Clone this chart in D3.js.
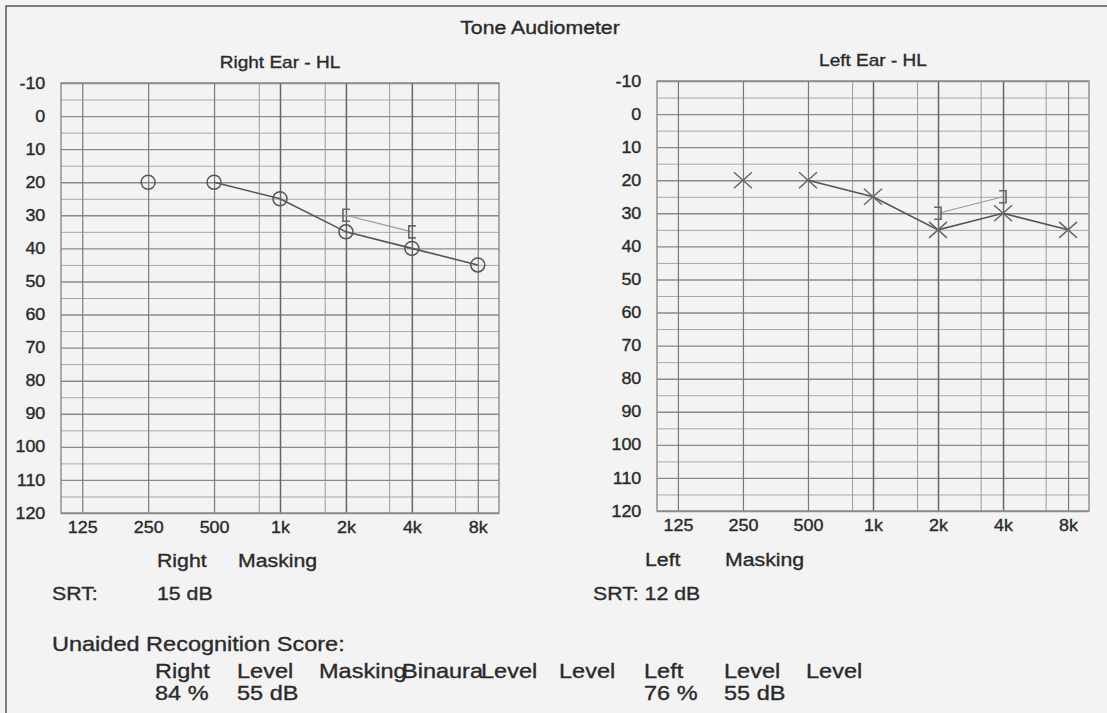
<!DOCTYPE html>
<html>
<head>
<meta charset="utf-8">
<script src="https://cdn.jsdelivr.net/npm/d3@7"></script>
<style>
  body { margin: 0; background: #f3f3f3; }
  svg { display: block; font-family: "Liberation Sans", Arial, sans-serif; }
  text { stroke: #2a2a2a; stroke-width: 0.35px; }
</style>
</head>
<body>
<div id="chart"></div>
<script>
// frequency axis
const freqs = [125, 250, 500, 1000, 2000, 4000, 8000];
const freqLabels = ["125", "250", "500", "1k", "2k", "4k", "8k"];
const midFreqs = [800, 1600, 3150, 6300];
const freqDomain = [100, 10000];

// hearing level axis
const dbTicks = [-10, 0, 10, 20, 30, 40, 50, 60, 70, 80, 90, 100, 110, 120];
const dbMinor = [-5, 5, 15, 25, 35, 45, 55, 65, 75, 85, 95, 105, 115];

// right ear
const rightFreqs = [250, 500, 1000, 2000, 4000, 8000];
const rightAir = [20, 20, 25, 35, 40, 45];
const rightMaskFreqs = [2000, 4000];
const rightMasked = [30, 35];

// left ear
const leftFreqs = [250, 500, 1000, 2000, 4000, 8000];
const leftAir = [20, 20, 25, 35, 30, 35];
const leftMaskFreqs = [2000, 4000];
const leftMasked = [30, 25];

const lineFrom = 500; // the plotted line starts at 500 Hz

const W = 1107, H = 713;
const stretch = 1.12;
const ink = "#2a2a2a";

const svg = d3.select("#chart").append("svg")
    .attr("width", W)
    .attr("height", H);

svg.append("rect").attr("width", W).attr("height", H).attr("fill", "#f3f3f3");

// page frame (top and left edge)
svg.append("path")
    .attr("d", `M6,${H} V6 H${W}`)
    .attr("fill", "none")
    .attr("stroke", "#555")
    .attr("stroke-width", 1.5);

function label(x, y, txt, size, anchor) {
    return svg.append("text")
        .attr("transform", `translate(${x},${y}) scale(${stretch},1)`)
        .attr("font-size", size)
        .attr("text-anchor", anchor || "start")
        .attr("fill", ink)
        .text(txt);
}

function panel(opt) {
    const w = opt.x1 - opt.x0, h = opt.y1 - opt.y0;
    const x = d3.scaleLog().domain(freqDomain).range([0, w]);
    const y = d3.scaleLinear().domain([-10, 120]).range([0, h]);

    const g = svg.append("g").attr("transform", `translate(${opt.x0},${opt.y0})`);

    // minor grid
    g.append("g")
        .call(d3.axisLeft(y).tickValues(dbMinor).tickSize(-w).tickFormat(""))
        .call(a => a.select(".domain").remove())
        .call(a => a.selectAll("line").attr("stroke", "#a8a8a8").attr("stroke-width", 1));
    g.append("g")
        .attr("transform", `translate(0,${h})`)
        .call(d3.axisBottom(x).tickValues(midFreqs).tickSize(-h).tickFormat(""))
        .call(a => a.select(".domain").remove())
        .call(a => a.selectAll("line").attr("stroke", "#9a9a9a").attr("stroke-width", 1));

    // major grid + labels
    g.append("g")
        .call(d3.axisLeft(y).tickValues(dbTicks).tickSize(-w).tickPadding(14).tickFormat(d => String(d)))
        .call(a => a.select(".domain").remove())
        .call(a => a.selectAll("line").attr("stroke", "#8a8a8a").attr("stroke-width", 1.4))
        .call(a => a.selectAll("text")
            .attr("font-size", 16)
            .attr("fill", ink)
            .attr("font-family", "Liberation Sans, Arial, sans-serif")
            .attr("transform", `scale(${stretch},1)`));

    g.append("g")
        .attr("transform", `translate(0,${h})`)
        .call(d3.axisBottom(x).tickValues(freqs).tickSize(-h).tickFormat((d, i) => freqLabels[i]))
        .call(a => a.select(".domain").remove())
        .call(a => a.selectAll("line")
            .attr("stroke", d => (d >= 1000 && d <= 4000) ? "#666" : "#7a7a7a")
            .attr("stroke-width", d => (d >= 1000 && d <= 4000) ? 1.5 : 1.2))
        .call(a => a.selectAll("text")
            .attr("y", 20).attr("dy", null)
            .attr("font-size", 16)
            .attr("fill", ink)
            .attr("font-family", "Liberation Sans, Arial, sans-serif")
            .attr("transform", `scale(${stretch},1)`));

    // border
    g.append("rect")
        .attr("width", w).attr("height", h)
        .attr("fill", "none")
        .attr("stroke", "#8a8a8a")
        .attr("stroke-width", 1.4);

    // masked thresholds
    const masked = opt.maskFreqs.map((f, i) => ({ f: f, v: opt.masked[i] }));
    const line = d3.line().x(d => x(d.f)).y(d => y(d.v));
    g.append("path")
        .attr("d", line(masked))
        .attr("fill", "none")
        .attr("stroke", "#999")
        .attr("stroke-width", 1.1);
    const s = opt.bracketSide;
    g.selectAll(".bracket").data(masked).enter().append("path")
        .attr("class", "bracket")
        .attr("transform", d => `translate(${x(d.f)},${y(d.v)})`)
        .attr("d", `M${4 * s},-6 H${-3 * s} V6 H${4 * s}`)
        .attr("fill", "none")
        .attr("stroke", "#666")
        .attr("stroke-width", 1.6);

    // air conduction thresholds
    const air = opt.freqs.map((f, i) => ({ f: f, v: opt.air[i] }));
    g.append("path")
        .attr("d", line(air.filter(d => d.f >= lineFrom)))
        .attr("fill", "none")
        .attr("stroke", "#555")
        .attr("stroke-width", 1.6);

    if (opt.marker === "circle") {
        g.selectAll(".pt").data(air).enter().append("circle")
            .attr("class", "pt")
            .attr("cx", d => x(d.f)).attr("cy", d => y(d.v))
            .attr("r", 7)
            .attr("fill", "none")
            .attr("stroke", "#555")
            .attr("stroke-width", 1.5);
    } else {
        g.selectAll(".pt").data(air).enter().append("path")
            .attr("class", "pt")
            .attr("transform", d => `translate(${x(d.f)},${y(d.v)})`)
            .attr("d", "M-9,-8 L9,8 M-9,8 L9,-8")
            .attr("fill", "none")
            .attr("stroke", "#666")
            .attr("stroke-width", 1.5);
    }

    label((opt.x0 + opt.x1) / 2, opt.titleY, opt.title, 17, "middle");
}

panel({
    x0: 61, x1: 499, y0: 83, y1: 513,
    title: "Right Ear - HL", titleY: 68,
    freqs: rightFreqs, air: rightAir,
    maskFreqs: rightMaskFreqs, masked: rightMasked,
    marker: "circle", bracketSide: 1
});

panel({
    x0: 657, x1: 1089, y0: 81, y1: 511,
    title: "Left Ear - HL", titleY: 66,
    freqs: leftFreqs, air: leftAir,
    maskFreqs: leftMaskFreqs, masked: leftMasked,
    marker: "cross", bracketSide: -1
});

label(540, 34, "Tone Audiometer", 19, "middle");

// under the charts
label(157, 567, "Right", 19);
label(238, 567, "Masking", 19);
label(645, 566, "Left", 19);
label(725, 566, "Masking", 19);
label(52, 600, "SRT:", 19);
label(157, 600, "15 dB", 19);
label(593, 600, "SRT: 12 dB", 19);

// recognition score block
const scoreHeads = ["Right", "Level", "Masking", "Binaura", "Level", "Level", "Left", "Level", "Level"];
const scoreCols = [155, 237, 319, 402, 481, 559, 644, 724, 806];
const scoreValues = ["84 %", "55 dB", "", "", "", "", "76 %", "55 dB", ""];

label(52, 651, "Unaided Recognition Score:", 21);
scoreHeads.forEach((t, i) => label(scoreCols[i], 678, t, 21));
scoreValues.forEach((t, i) => { if (t) label(scoreCols[i], 700, t, 21); });
</script>
</body>
</html>
